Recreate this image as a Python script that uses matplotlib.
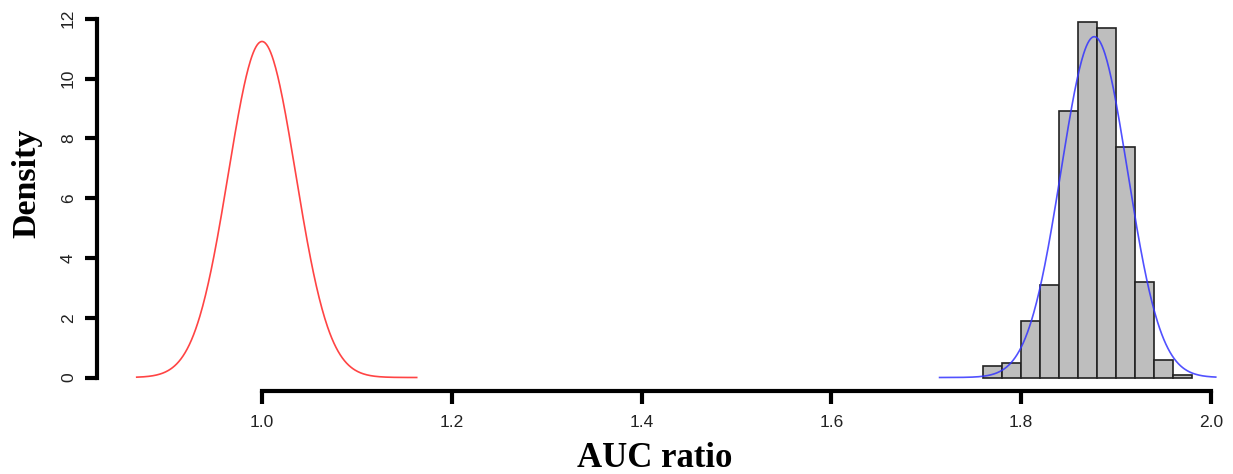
import matplotlib.pyplot as plt
import numpy as np

# histogram of bootstrapped AUC ratios (density scale)
bin_edges = [1.76, 1.78, 1.80, 1.82, 1.84, 1.86, 1.88, 1.90, 1.92, 1.94, 1.96, 1.98]
densities = [0.4, 0.5, 1.9, 3.1, 8.9, 11.9, 11.7, 7.7, 3.2, 0.6, 0.1]

# fitted normal curves: (mean, sd, from, to)
null_curve = (1.0, 0.0355, 0.868, 1.163)
obs_curve = (1.877, 0.035, 1.714, 2.005)

x_ticks = [1.0, 1.2, 1.4, 1.6, 1.8, 2.0]
y_ticks = [0, 2, 4, 6, 8, 10, 12]


def norm_curve(mean, sd, lo, hi, n=400):
    xs = np.linspace(lo, hi, n)
    ys = np.exp(-0.5 * ((xs - mean) / sd) ** 2) / (sd * np.sqrt(2 * np.pi))
    return xs, ys


W, H = 1233, 474
fig = plt.figure(figsize=(W / 100, H / 100), dpi=100)

# axes placed so that 1.0 -> px 262, 2.0 -> px 1211, 0 -> px 377.5, 12 -> px 19
xpx = lambda v: 262 + (v - 1.0) * 949
ypx = lambda v: 377.5 - v * 29.9
xlo, xhi = 0.826, 2.02
ylo, yhi = -0.45, 12.3
left = xpx(xlo) / W
right = xpx(xhi) / W
bottom = (H - ypx(ylo)) / H
top = (H - ypx(yhi)) / H
ax = fig.add_axes([left, bottom, right - left, top - bottom])
ax.set_xlim(xlo, xhi)
ax.set_ylim(ylo, yhi)

widths = np.diff(bin_edges)
ax.bar(bin_edges[:-1], densities, width=widths, align='edge',
       color='#BEBEBE', edgecolor='#222222', linewidth=1.2, zorder=2)

xs, ys = norm_curve(*null_curve)
ax.plot(xs, ys, color='#FF4444', linewidth=1.2, zorder=3)
xs, ys = norm_curve(*obs_curve)
ax.plot(xs, ys, color='#3333FF', linewidth=1.2, alpha=0.85, zorder=3)

for side in ['top', 'right']:
    ax.spines[side].set_visible(False)
ax.spines['left'].set_bounds(0, 12)
ax.spines['bottom'].set_bounds(1.0, 2.0)
ax.spines['left'].set_linewidth(3)
ax.spines['bottom'].set_linewidth(3)

ax.set_xticks(x_ticks)
ax.set_xticklabels([f'{v:.1f}' for v in x_ticks])
ax.set_yticks(y_ticks)
ax.set_yticklabels([str(v) for v in y_ticks], rotation=90, va='center')
ax.tick_params(axis='both', length=9, width=3, labelsize=12.5)
ax.tick_params(axis='x', pad=8)
ax.tick_params(axis='y', pad=6)
for lab in ax.get_xticklabels() + ax.get_yticklabels():
    lab.set_family(['Liberation Sans Narrow', 'Liberation Sans', 'DejaVu Sans'])
    lab.set_color('#222222')

serif = ['Liberation Serif', 'DejaVu Serif']
fig.text(655 / W, (H - 467) / H, 'AUC ratio', fontsize=25, fontweight='bold',
         family=serif, ha='center', va='baseline')
fig.text(27 / W, (H - 183) / H, 'Density', fontsize=24.5, fontweight='bold',
         family=serif, ha='center', va='center', rotation=90)

fig.savefig('out.png', dpi=100)
